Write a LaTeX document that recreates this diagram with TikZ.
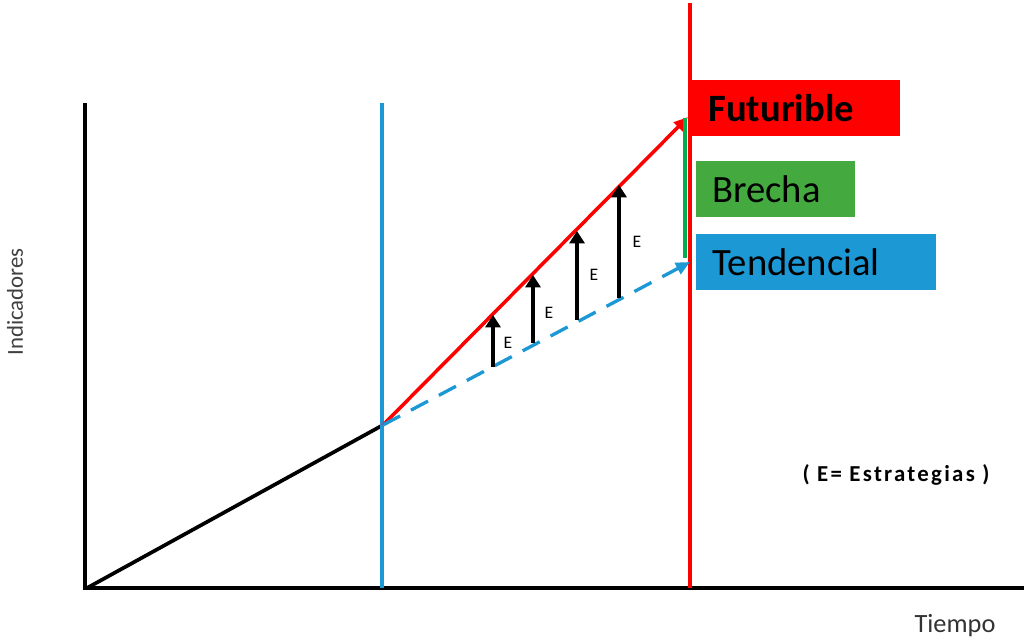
\documentclass[tikz,border=0pt]{standalone}
\usepackage{fontspec}
\setmainfont{Carlito}
\usetikzlibrary{arrows.meta}

\definecolor{futred}{RGB}{255,0,0}
\definecolor{gapgreen}{RGB}{0,176,80}
\definecolor{boxgreen}{RGB}{68,170,64}
\definecolor{trendblue}{RGB}{28,152,212}

\begin{document}
\begin{tikzpicture}[x=0.02cm, y=-0.02cm,
    axis/.style={line width=2.1pt, black},
    marker/.style={line width=2.1pt},
    trend/.style={line width=1.9pt, trendblue, dash pattern=on 11pt off 7pt},
    push/.style={line width=2pt, black, -{Triangle[length=7pt, width=8.5pt]}},
    tag/.style={anchor=north west, minimum height=1.12cm, inner xsep=0.32cm,
        align=left, font=\fontsize{22}{25}\selectfont},
    elabel/.style={font=\fontsize{10}{12}\selectfont}
]
\useasboundingbox (0,0) rectangle (1026,642);

% Key points
\coordinate (O)  at (87,588);
\coordinate (P)  at (383,425);
\coordinate (F)  at (688,117);
\coordinate (T)  at (690,262);
\coordinate (Xe) at (1024,588);
\coordinate (Ye) at (85,103);

% Coordinate axes
\draw[axis] (Ye) -- (85,588) -- (Xe);
\draw[axis] (O) -- (P);

% Time marks
\coordinate (B0) at (382,103);
\coordinate (B1) at (382,588);
\coordinate (R0) at (690,3);
\coordinate (R1) at (690,588);
\draw[marker, trendblue] (B0) -- (B1);
\draw[marker, futred] (R0) -- (R1);

% Scenarios
\draw[line width=2pt, futred, -{Triangle[length=8pt, width=7pt]}] (P) -- (F);
\draw[trend, -{Triangle[length=8pt, width=7pt]}] (P) -- (T);
\coordinate (G0) at (685,118);
\coordinate (G1) at (685,258);
\draw[marker, gapgreen] (G0) -- (G1);

% Strategy arrows
\foreach \i/\x/\yb/\yt/\ex/\ey in {1/493/367/315/508/343,
                                  2/533/343/275/549/313,
                                  3/577/320/231/594/275,
                                  4/619/298/185/637/242}{
    \coordinate (b\i) at (\x,\yb);
    \coordinate (t\i) at (\x,\yt);
    \draw[push] (b\i) -- (t\i);
    \node[elabel] (e\i) at (\ex,\ey) {E};
}

% Legend boxes
\node[tag, fill=futred, minimum width=4.16cm, text width=3.52cm] (fut) at (692,80) {\textbf{Futurible}};
\node[tag, fill=boxgreen, minimum width=3.18cm, text width=2.54cm] (bre) at (696,161) {Brecha};
\node[tag, fill=trendblue, minimum width=4.8cm, text width=4.16cm] (ten) at (696,234) {Tendencial};

% Labels
\node[rotate=90, text=black!75, font=\fontsize{13}{15}\selectfont] (ind) at (15,302) {Indicadores};
\node[text=black!80, font=\fontsize{15}{17}\selectfont] (tie) at (955,626) {Tiempo};
\node[font=\fontsize{13}{15}\bfseries\addfontfeature{LetterSpace=10}] (est) at (896,475) {( E= Estrategias )};

\end{tikzpicture}
\end{document}
